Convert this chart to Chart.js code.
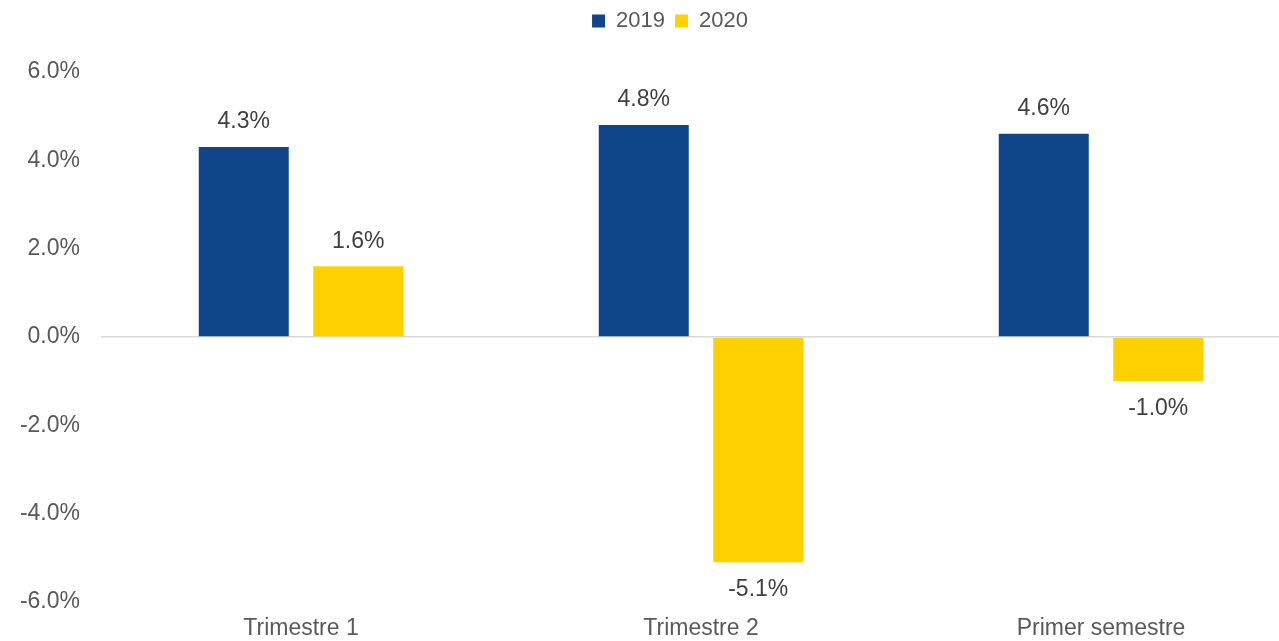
<!DOCTYPE html>
<html>
<head>
<meta charset="utf-8">
<script src="https://cdn.jsdelivr.net/npm/chart.js@4/dist/chart.umd.min.js"></script>
<style>
  html, body { margin: 0; padding: 0; overflow: hidden; background: #fff; }
  #wrap { width: 1340px; height: 641px; position: relative; }
</style>
</head>
<body>
<div id="wrap"><canvas id="growthChart"></canvas></div>
<script>
// chart data
const categories = ['Trimestre 1', 'Trimestre 2', 'Primer semestre'];
const values2019 = [4.3, 4.8, 4.6];
const values2020 = [1.6, -5.1, -1.0];
const seriesNames = ['2019', '2020'];
const yTicks = [-6, -4, -2, 0, 2, 4, 6];

const BLUE = '#0E4689';
const YELLOW = '#FFD100';
const FONT = "'Liberation Sans', Arial, sans-serif";

Chart.defaults.font.family = FONT;
Chart.defaults.font.size = 23;
Chart.defaults.color = '#595959';

// Value labels above / below each bar
const barLabels = {
    id: 'barLabels',
    afterDatasetsDraw(chart) {
        const ctx = chart.ctx;
        ctx.save();
        ctx.font = '23px ' + FONT;
        ctx.fillStyle = '#404040';
        ctx.textAlign = 'center';
        ctx.textBaseline = 'middle';
        chart.data.datasets.forEach((ds, i) => {
            chart.getDatasetMeta(i).data.forEach((bar, j) => {
                const v = ds.data[j];
                const y = v >= 0 ? bar.y - 25 : bar.y + 27;
                ctx.fillText(v.toFixed(1) + '%', bar.x, y);
            });
        });
        ctx.restore();
    }
};

new Chart(document.getElementById('growthChart'), {
    type: 'bar',
    data: {
        labels: categories,
        datasets: [
            { label: seriesNames[0], data: values2019, backgroundColor: BLUE },
            { label: seriesNames[1], data: values2020, backgroundColor: YELLOW }
        ]
    },
    options: {
        responsive: true,
        maintainAspectRatio: false,
        animation: false,
        datasets: { bar: { categoryPercentage: 0.5725, barPercentage: 0.786 } },
        plugins: {
            legend: {
                position: 'top',
                labels: { boxWidth: 13, boxHeight: 13, padding: 10, color: '#595959', font: { size: 22 } }
            },
            // empty title used as spacer between legend and plot
            title: {
                display: true,
                text: '',
                weight: 500,
                font: { size: 10 },
                padding: { top: 0, bottom: 18 }
            },
            tooltip: { enabled: false }
        },
        scales: {
            x: {
                grid: { display: false, drawTicks: false },
                border: { display: false },
                ticks: { padding: 13, color: '#595959' },
                afterFit: (s) => { s.height = 39; }
            },
            y: {
                min: -6,
                max: 6,
                afterBuildTicks: (s) => { s.ticks = yTicks.map(v => ({ value: v })); },
                afterFit: (s) => { s.width = 101; },
                border: { display: false },
                grid: {
                    color: (c) => c.tick && c.tick.value === 0 ? '#D9D9D9' : 'rgba(0,0,0,0)',
                    lineWidth: 1.5,
                    drawTicks: false
                },
                ticks: {
                    padding: 21,
                    color: '#595959',
                    callback: (v) => v.toFixed(1) + '%'
                }
            },
            yRight: {
                position: 'right',
                display: true,
                grid: { display: false },
                border: { display: false },
                ticks: { display: false },
                afterFit: (s) => { s.width = 39; }
            }
        }
    },
    plugins: [barLabels]
});
</script>
</body>
</html>
